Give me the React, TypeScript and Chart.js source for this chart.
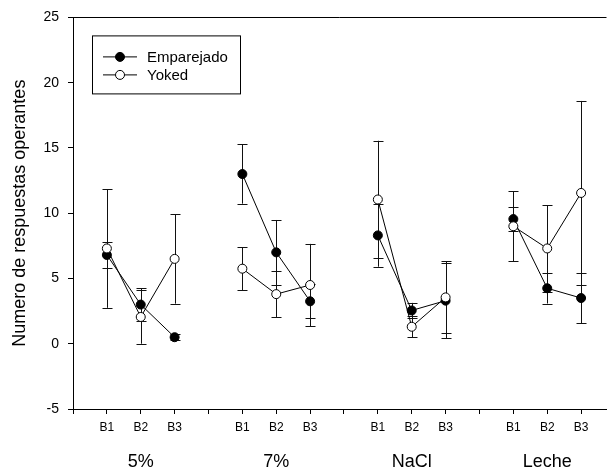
import React, { useEffect, useRef } from "react";
import { Chart, registerables } from "chart.js";

Chart.register(...registerables);

const groups = ["5%", "7%", "NaCl", "Leche"];
const blocks = ["B1", "B2", "B3"];
const emparejado = [6.8, 3.0, 0.5, 13.0, 7.0, 3.25, 8.3, 2.55, 3.3, 9.55, 4.25, 3.5];
const emparejadoErr = [1.0, 1.25, 0.25, 2.27, 2.48, 1.3, 2.4, 0.58, 2.88, 0.95, 1.17, 1.93];
const yoked = [7.3, 2.05, 6.5, 5.75, 3.8, 4.5, 11.05, 1.3, 3.55, 9.0, 7.3, 11.55];
const yokedErr = [4.55, 2.05, 3.43, 1.64, 1.75, 3.15, 4.5, 0.8, 2.75, 2.67, 3.3, 7.05];
const yMin = -5;
const yMax = 25;
const yStep = 5;
const yTitle = "Numero de respuestas operantes";
const seriesNames = ["Emparejado", "Yoked"];

const FONT = "'Liberation Sans', Arial, sans-serif";

function buildPoints(values: number[], errs: number[]) {
  const pts: any[] = [];
  groups.forEach((_g, gi) => {
    if (gi > 0) pts.push({ x: gi * 4, y: null });
    blocks.forEach((_b, bi) => {
      const i = gi * 3 + bi;
      pts.push({ x: gi * 4 + bi + 1, y: values[i], err: errs[i] });
    });
  });
  return pts;
}

function xLabel(v: number) {
  const r = Math.round(v) % 4;
  if (r === 0) return "";
  return blocks[r - 1];
}

const errorBars = {
  id: "errorBars",
  beforeDatasetsDraw(chart: any) {
    const ctx = chart.ctx;
    const ys = chart.scales.y;
    ctx.save();
    ctx.strokeStyle = "#111";
    ctx.lineWidth = 1;
    chart.data.datasets.forEach((ds: any, di: number) => {
      const meta = chart.getDatasetMeta(di);
      ds.data.forEach((p: any, i: number) => {
        if (p.y == null || p.err == null) return;
        const el = meta.data[i];
        const x = Math.round(el.x) + 0.5;
        const t = ys.getPixelForValue(p.y + p.err);
        const b = ys.getPixelForValue(p.y - p.err);
        ctx.beginPath();
        ctx.moveTo(x, t);
        ctx.lineTo(x, b);
        ctx.moveTo(x - 5, Math.round(t) + 0.5);
        ctx.lineTo(x + 5, Math.round(t) + 0.5);
        ctx.moveTo(x - 5, Math.round(b) + 0.5);
        ctx.lineTo(x + 5, Math.round(b) + 0.5);
        ctx.stroke();
      });
    });
    ctx.restore();
  },
};

const decorations = {
  id: "decorations",
  afterDraw(chart: any) {
    const ctx = chart.ctx;
    const area = chart.chartArea;
    const xs = chart.scales.x;
    ctx.save();
    // top frame line
    ctx.strokeStyle = "#000";
    ctx.lineWidth = 1;
    ctx.beginPath();
    ctx.moveTo(area.left, Math.round(area.top) + 0.5);
    ctx.lineTo(area.right, Math.round(area.top) + 0.5);
    ctx.stroke();

    // y title
    ctx.fillStyle = "#000";
    ctx.font = `18px ${FONT}`;
    ctx.textAlign = "center";
    ctx.textBaseline = "middle";
    ctx.save();
    ctx.translate(20, (area.top + area.bottom) / 2);
    ctx.rotate(-Math.PI / 2);
    ctx.fillText(yTitle, 0, 0);
    ctx.restore();

    // group labels
    ctx.font = `18px ${FONT}`;
    groups.forEach((g, gi) => {
      const cx = xs.getPixelForValue(gi * 4 + 2);
      ctx.fillText(g, cx, area.bottom + 53);
    });

    // legend
    const lx = area.left + 19;
    const ly = area.top + 18;
    const lw = 148;
    const lh = 58;
    ctx.strokeStyle = "#000";
    ctx.fillStyle = "#fff";
    ctx.fillRect(lx, ly, lw, lh);
    ctx.strokeRect(lx + 0.5, ly + 0.5, lw, lh);
    chart.data.datasets.forEach((ds: any, di: number) => {
      const y = ly + 21 + di * 18;
      ctx.strokeStyle = ds.borderColor;
      ctx.lineWidth = 1;
      ctx.beginPath();
      ctx.moveTo(lx + 11, y + 0.5);
      ctx.lineTo(lx + 45, y + 0.5);
      ctx.stroke();
      ctx.beginPath();
      ctx.arc(lx + 28, y + 0.5, ds.pointRadius, 0, Math.PI * 2);
      ctx.fillStyle = ds.pointBackgroundColor;
      ctx.fill();
      ctx.strokeStyle = ds.pointBorderColor;
      ctx.stroke();
      ctx.fillStyle = "#000";
      ctx.font = `15px ${FONT}`;
      ctx.textAlign = "left";
      ctx.textBaseline = "middle";
      ctx.fillText(ds.label, lx + 55, y + 1);
    });
    ctx.restore();
  },
};

export default function App() {
  const ref = useRef<HTMLCanvasElement>(null);
  useEffect(() => {
    if (!ref.current) return;
    const chart = new Chart(ref.current, {
      type: "line",
      data: {
        datasets: [
          {
            label: seriesNames[0],
            data: buildPoints(emparejado, emparejadoErr),
            borderColor: "#000",
            borderWidth: 1,
            pointRadius: 4.5,
            pointBorderWidth: 1,
            pointBackgroundColor: "#000",
            pointBorderColor: "#000",
            spanGaps: false,
            order: 2,
          },
          {
            label: seriesNames[1],
            data: buildPoints(yoked, yokedErr),
            borderColor: "#000",
            borderWidth: 1,
            pointRadius: 4.5,
            pointBorderWidth: 1,
            pointBackgroundColor: "#fff",
            pointBorderColor: "#000",
            spanGaps: false,
            order: 1,
          },
        ] as any,
      },
      options: {
        animation: false,
        responsive: false,
        layout: { padding: { top: 13, right: 0, left: 0, bottom: 0 } },
        plugins: { legend: { display: false }, tooltip: { enabled: false } },
        scales: {
          x: {
            type: "linear",
            min: 0,
            max: 15.75,
            afterBuildTicks: (scale: any) => {
              scale.ticks = Array.from({ length: 16 }, (_v, i) => ({ value: i }));
            },
            afterFit: (scale: any) => {
              scale.height = 65;
            },
            grid: { drawOnChartArea: false, drawTicks: true, tickLength: 5, color: "#000" },
            border: { display: true, color: "#000" },
            ticks: {
              autoSkip: false,
              maxRotation: 0,
              padding: 6,
              color: "#000",
              font: { family: FONT, size: 12 },
              callback: (v: any) => xLabel(Number(v)),
            },
          },
          y: {
            min: yMin,
            max: yMax,
            afterFit: (scale: any) => {
              scale.width = 73;
            },
            grid: { drawOnChartArea: false, drawTicks: true, tickLength: 5, color: "#000" },
            border: { display: true, color: "#000" },
            ticks: {
              stepSize: yStep,
              padding: 9,
              color: "#000",
              font: { family: FONT, size: 14 },
            },
          },
        },
      } as any,
      plugins: [errorBars, decorations],
    });
    return () => chart.destroy();
  }, []);
  return (
    <canvas
      ref={ref}
      width={612}
      height={474}
      style={{ position: "absolute", left: 0, top: 0, width: 612, height: 474 }}
    />
  );
}
